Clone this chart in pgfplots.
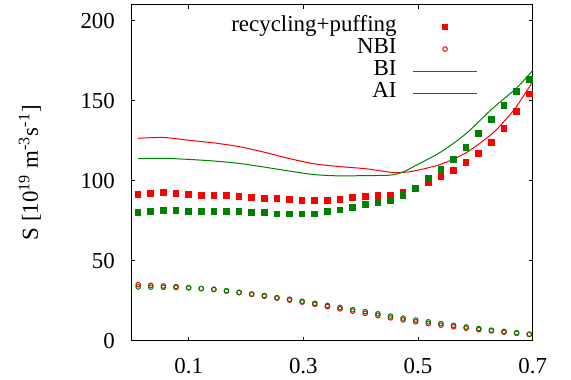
\documentclass[border=0pt]{standalone}
\usepackage{fontspec}
\setmainfont{Liberation Serif}
\usepackage{pgfplots}
\usepackage{pgfplotstable}
\pgfplotsset{compat=1.18}
\definecolor{gpred}{RGB}{255,0,0}
\definecolor{gpgreen}{RGB}{0,128,0}
\pgfplotstableread{
x rsq gsq rnbi gnbi
0.012 91.3 80.1 35.0 33.6
0.034 92.0 80.6 34.6 33.5
0.056 92.5 81.2 34.2 33.4
0.078 92.1 81.2 33.8 33.3
0.100 91.4 80.6 33.2 33.0
0.122 90.8 80.6 32.6 32.6
0.144 90.8 80.6 32.0 32.2
0.166 90.8 80.6 31.0 31.3
0.188 90.0 80.6 30.0 30.3
0.210 89.4 80.2 28.9 29.2
0.232 88.9 80.2 27.8 28.2
0.254 88.9 79.3 26.6 26.9
0.276 88.3 79.3 25.4 25.9
0.298 87.6 79.3 24.1 24.7
0.320 87.6 79.3 22.7 23.4
0.342 87.6 80.6 21.3 22.0
0.364 88.3 81.8 19.9 20.8
0.386 89.4 83.1 18.5 19.4
0.408 90.0 85.0 17.1 18.2
0.430 90.6 86.4 15.7 16.8
0.452 90.8 87.5 14.3 15.4
0.474 92.7 90.6 13.0 14.1
0.496 95.0 95.4 11.8 12.9
0.518 98.7 101.3 10.7 11.8
0.540 102.5 106.9 9.7 10.7
0.562 106.5 113.2 8.7 9.6
0.584 111.3 120.9 7.8 8.6
0.606 116.9 129.4 6.9 7.6
0.628 124.0 138.4 6.1 6.6
0.650 132.8 147.0 5.3 5.8
0.672 143.2 155.7 4.6 5.0
0.694 154.3 163.3 3.9 4.1
}\pts
\pgfplotstableread{
x s
0.012 126.5
0.056 127.0
0.100 125.3
0.144 123.6
0.188 121.3
0.232 117.8
0.276 113.8
0.320 110.5
0.364 108.8
0.408 107.5
0.452 105.3
0.474 105.2
0.496 106.3
0.540 110.3
0.584 117.5
0.628 129.0
0.650 137.0
0.672 146.5
0.700 162.0
}\bi
\pgfplotstableread{
x s
0.012 113.8
0.056 114.0
0.100 113.3
0.144 112.3
0.188 110.8
0.232 108.5
0.276 106.0
0.320 103.8
0.364 103.0
0.408 103.2
0.452 103.5
0.474 105.5
0.496 109.5
0.540 118.0
0.584 129.5
0.628 144.5
0.672 158.0
0.700 169.0
}\ai
\begin{document}
\begin{tikzpicture}
\useasboundingbox (-65.65bp,-19.65bp) rectangle (219.85bp,170.35bp);
\begin{axis}[
  at={(0,0)}, anchor=south west,
  scale only axis, width=200.7bp, height=168bp,
  font=\fontsize{11.5}{13.8}\selectfont,
  xmin=0, xmax=0.7, ymin=0, ymax=210,
  xtick={0.1,0.3,0.5,0.7}, ytick={0,50,100,150,200},
  xticklabels={0.1,0.3,0.5,0.7},
  yticklabels={0,50,100,150,200},
  tick align=inside, major tick length=2bp,
  tick style={black, line width=0.5bp},
  axis line style={line width=0.6bp},
  xticklabel style={anchor=base, inner sep=0pt, yshift=-16.5bp},
  yticklabel style={anchor=east, inner sep=0pt, xshift=-8bp},
  ylabel={S [10\textsuperscript{19} m\textsuperscript{-3}s\textsuperscript{-1}]},
  every axis y label/.style={at={([xshift=-46.65bp]rel axis cs:0,0.5)}, rotate=90, anchor=base},
  legend style={at={(rel axis cs:0.8637,0.968)}, anchor=north east, draw=none, fill=none,
    inner sep=0pt, row sep=0pt, legend cell align=right,
    nodes={inner xsep=0pt, inner ysep=0.8bp, text height=0.7em, text depth=0.25em},
    /tikz/every odd column/.append style={column sep=8bp}},
  legend plot pos=right,
]
\addplot[only marks, mark=square*, mark size=1.4bp, color=gpred, mark options={line width=0pt},
  legend image code/.code={\path (0bp,0bp) (32bp,0bp); \fill[gpred] (14.6bp,-1.4bp) rectangle (17.4bp,1.4bp);}] table[x=x,y=rsq]{\pts};
\addlegendentry{recycling+puffing}
\addplot[only marks, mark=o, mark size=1.15bp, color=gpred, mark options={line width=0.5bp},
  legend image code/.code={\path (0bp,0bp) (32bp,0bp); \draw[gpred, line width=0.5bp] (16bp,0bp) circle[radius=1.15bp];}] table[x=x,y=rnbi]{\pts};
\addlegendentry{NBI}
\addplot[color=gpred, line width=0.5bp, smooth, tension=0.5, mark=none,
  legend image code/.code={\draw[gpred, line width=0.5bp] (0bp,0bp) -- (32bp,0bp);}] table[x=x,y=s]{\bi};
\addlegendentry{BI}
\addplot[color=gpgreen, line width=0.5bp, smooth, tension=0.5, mark=none,
  legend image code/.code={\draw[gpgreen, line width=0.5bp] (0bp,0bp) -- (32bp,0bp);}] table[x=x,y=s]{\ai};
\addlegendentry{AI}
\addplot[only marks, mark=square*, mark size=1.4bp, color=gpgreen, mark options={line width=0pt}, forget plot] table[x=x,y=gsq]{\pts};
\addplot[only marks, mark=o, mark size=1.15bp, color=gpgreen, mark options={line width=0.5bp}, forget plot] table[x=x,y=gnbi]{\pts};
\end{axis}
\end{tikzpicture}
\end{document}
